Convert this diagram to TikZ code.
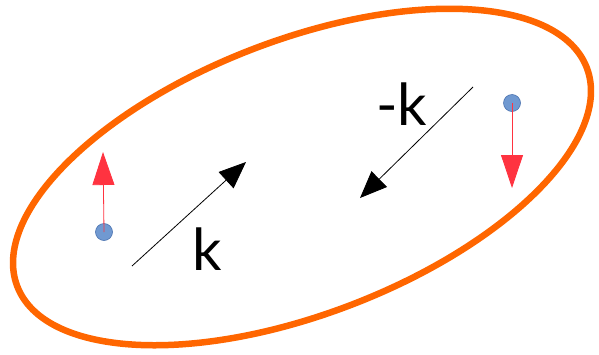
\documentclass[tikz,border=0pt]{standalone}
\usepackage{fontspec}
\setmainfont{Lato}
\usetikzlibrary{arrows.meta}
\definecolor{ringorange}{HTML}{FF6600}
\definecolor{spinred}{HTML}{FF3340}
\definecolor{dotfill}{HTML}{7099D1}
\definecolor{dotdraw}{HTML}{4A72B0}
\tikzset{
  ring/.style={draw=ringorange, line width=6.5pt},
  kvec/.style={draw=black, line width=0.8pt, -{Triangle[length=27pt,width=22pt]}},
  spinvec/.style={draw=spinred, line width=0.8pt, -{Triangle[length=33pt,width=22pt]}},
  electron/.style={circle, fill=dotfill, draw=dotdraw, line width=0.6pt, minimum size=17pt, inner sep=0pt},
  klabel/.style={inner sep=0pt, font=\fontsize{58}{60}\selectfont}
}
\begin{document}
\begin{tikzpicture}[x=1pt,y=-1pt]
\useasboundingbox (0,0) rectangle (599,354);
\draw[ring] (302,177) ellipse [x radius=305, y radius=137, rotate=21];
% k vectors
\coordinate (k1s) at (132,266);
\coordinate (k1e) at (246,162);
\coordinate (k2s) at (473,87);
\coordinate (k2e) at (360,198);
\draw[kvec] (k1s) -- (k1e);
\draw[kvec] (k2s) -- (k2e);
\node[klabel, anchor=base west] (lk) at (192,270) {k};
\node[klabel, anchor=base west] (lmk) at (376,125) {-k};
% electrons with spins
\node[electron] (e1) at (104,232) {};
\node[electron] (e2) at (512,103) {};
\coordinate (s1) at (103,152);
\coordinate (s2) at (512,188);
\draw[spinvec] (e1.center) -- (s1);
\draw[spinvec] (e2.center) -- (s2);
\end{tikzpicture}
\end{document}
